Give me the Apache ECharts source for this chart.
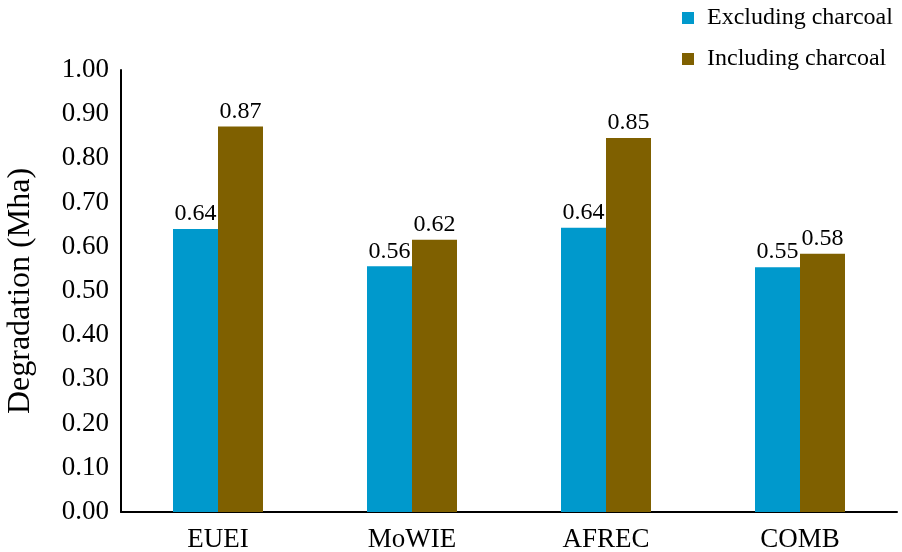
<!DOCTYPE html>
<html><head><meta charset="utf-8">
<script src="https://cdn.jsdelivr.net/npm/echarts@6/dist/echarts.min.js"></script>
<style>html,body{margin:0;padding:0;background:#fff}#c{width:902px;height:552px}</style>
</head><body><div id="c"></div>
<script>
var categories = ['EUEI', 'MoWIE', 'AFREC', 'COMB'];
var excluding = [0.640, 0.556, 0.643, 0.554];
var including = [0.872, 0.616, 0.846, 0.584];
var seriesNames = ['Excluding charcoal', 'Including charcoal'];
var F = '"Liberation Serif", "Times New Roman", serif';
var chart = echarts.init(document.getElementById('c'));
var lbl = {show: true, position: 'top', distance: 3, fontFamily: F, fontSize: 24, color: '#000',
  formatter: function(p){ return p.value.toFixed(2); }};
chart.setOption({
  animation: false,
  textStyle: {fontFamily: F},
  legend: {orient: 'vertical', left: 682, top: 6, padding: 0, itemGap: 17, itemWidth: 12, itemHeight: 12,
    icon: 'rect', textStyle: {fontFamily: F, fontSize: 24, color: '#000', padding: [0, 0, 0, 8]},
    data: seriesNames},
  grid: {left: 121, right: 5, top: 70, bottom: 40, containLabel: false, outerBoundsMode: 'none'},
  xAxis: {type: 'category', data: categories,
    axisLine: {lineStyle: {color: '#000', width: 2}}, axisTick: {show: false},
    axisLabel: {fontFamily: F, fontSize: 27, color: '#000', margin: 14}},
  yAxis: {type: 'value', min: 0, max: 1, interval: 0.1,
    name: 'Degradation (Mha)', nameLocation: 'middle', nameGap: 84,
    nameTextStyle: {fontFamily: F, fontSize: 32, color: '#000'},
    axisLine: {show: true, lineStyle: {color: '#000', width: 2}}, axisTick: {show: false},
    splitLine: {show: false},
    axisLabel: {fontFamily: F, fontSize: 27, color: '#000', margin: 12,
      formatter: function(v){ return v.toFixed(2); }}},
  series: [
    {name: seriesNames[0], type: 'bar', data: excluding, barWidth: 45, barGap: '0%',
     itemStyle: {color: '#0099CC'}, label: lbl},
    {name: seriesNames[1], type: 'bar', data: including, barWidth: 45, barGap: '0%',
     itemStyle: {color: '#7F6000'}, label: lbl}
  ]
});
</script></body></html>
